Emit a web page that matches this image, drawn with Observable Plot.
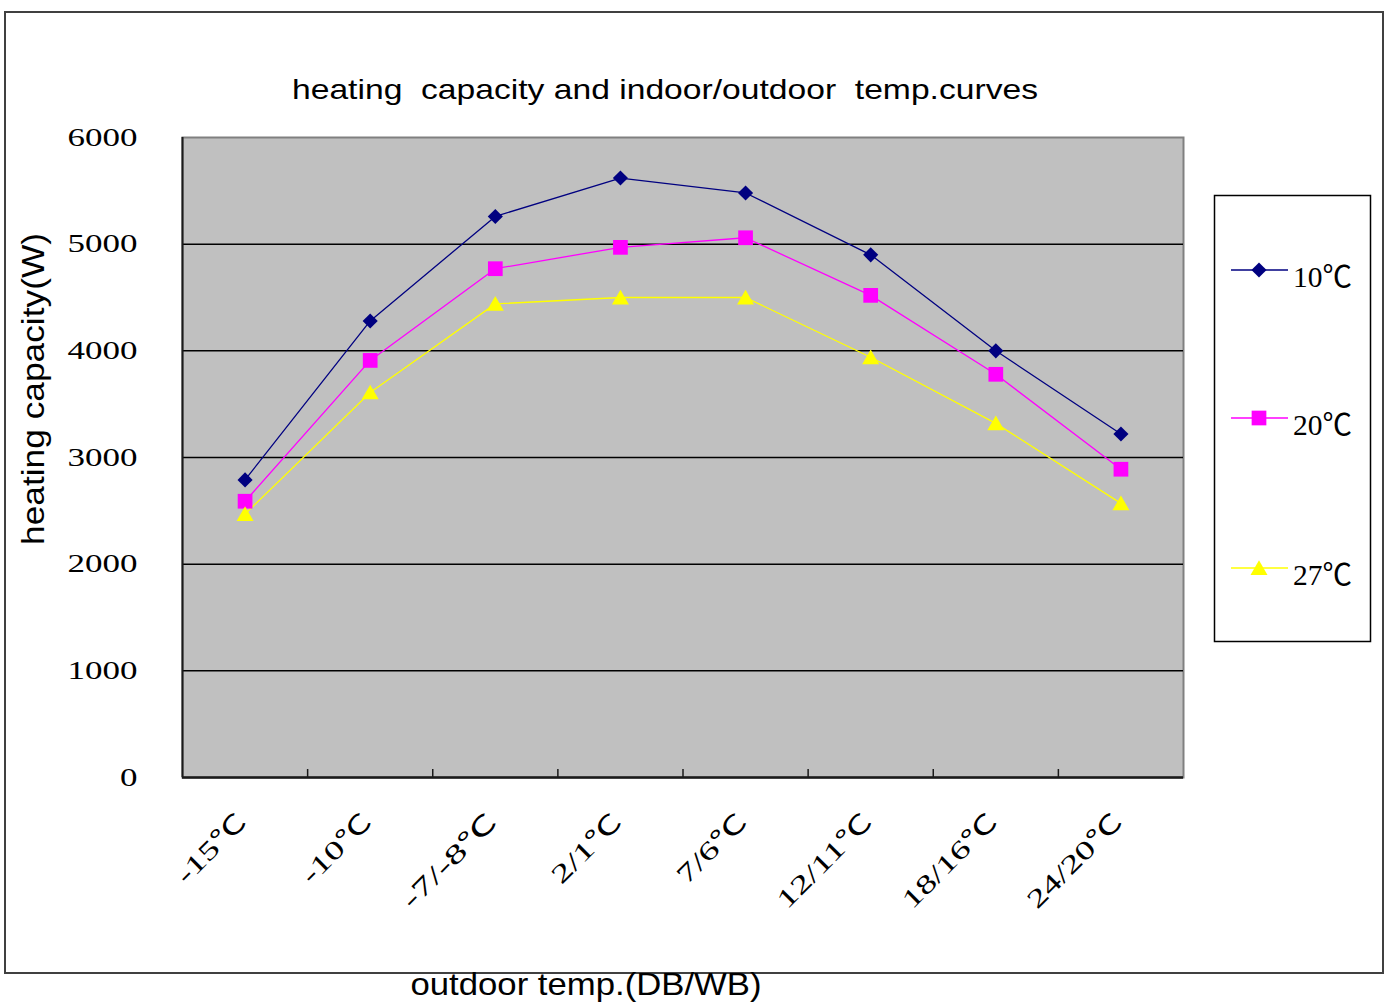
<!DOCTYPE html>
<html>
<head>
<meta charset="utf-8">
<script src="https://cdn.jsdelivr.net/npm/d3@7"></script>
<script src="https://cdn.jsdelivr.net/npm/@observablehq/plot@0.6"></script>
<style>
  html, body { margin: 0; padding: 0; background: #ffffff; }
  #c { position: relative; width: 1389px; height: 1003px; }
  #c svg { display: block; }
</style>
</head>
<body>
<div id="c"></div>
<script>
// ---- data ----
const categories = ["-15℃", "-10℃", "-7/-8℃", "2/1℃", "7/6℃", "12/11℃", "18/16℃", "24/20℃"];
const seriesNames = ["10℃", "20℃", "27℃"];
const values10 = [2790, 4280, 5260, 5620, 5480, 4900, 4000, 3220];
const values20 = [2590, 3910, 4770, 4970, 5060, 4520, 3780, 2890];
const values27 = [2470, 3610, 4440, 4500, 4500, 3940, 3320, 2570];
const yTicks = [0, 1000, 2000, 3000, 4000, 5000, 6000];
const titleText = "heating  capacity and indoor/outdoor  temp.curves";
const xTitle = "outdoor temp.(DB/WB)";
const yTitle = "heating capacity(W)";

const colors = ["#000080", "#ff00ff", "#ffff00"];
const symbols = ["diamond2", "square", "triangle"];
const radii = [6.8, 8.3, 6.3];
const symDy = [0, 0, 2];

const allValues = [values10, values20, values27];
const rows = [];
allValues.forEach((vals, s) => vals.forEach((v, i) => rows.push({series: seriesNames[s], s, i, cat: categories[i], value: v})));

const serif = "'Liberation Serif', 'Times New Roman', 'Noto Sans CJK SC', serif";
const sans = "'Liberation Sans', Arial, sans-serif";

const lineMarks = seriesNames.map((name, s) =>
  Plot.line(rows.filter(d => d.s === s), {x: d => d.i + 0.5, y: "value", stroke: colors[s], strokeWidth: 1.3})
);
const dotMarks = seriesNames.map((name, s) =>
  Plot.dot(rows.filter(d => d.s === s), {x: d => d.i + 0.5, y: "value", symbol: symbols[s], r: radii[s], fill: colors[s], stroke: "none", dy: symDy[s]})
);

const chart = Plot.plot({
  width: 1389,
  height: 1003,
  marginLeft: 182,
  marginRight: 206,
  marginTop: 137,
  marginBottom: 226,
  style: {background: "#ffffff", overflow: "visible"},
  x: {domain: [0, categories.length], axis: null},
  y: {domain: [0, 6000], axis: null},
  marks: [
    Plot.frame({fill: "#c0c0c0", stroke: "#808080", strokeWidth: 2}),
    Plot.gridY(yTicks.filter(v => v > 0 && v < 6000), {stroke: "#000000", strokeOpacity: 1, strokeWidth: 1.5}),
    Plot.ruleY([0], {stroke: "#1a1a1a", strokeWidth: 2.5}),
    Plot.ruleX([0], {stroke: "#1a1a1a", strokeWidth: 2}),
    Plot.axisX(d3.range(1, categories.length), {tickSize: 8, dy: -8, fill: "none", stroke: "#1a1a1a", strokeWidth: 1.5, label: null}),
    ...lineMarks,
    ...dotMarks,
    Plot.text(yTicks, {frameAnchor: "left", y: d => d, text: d => String(d), textAnchor: "end", dx: -45, fontSize: 26, fontFamily: serif, fill: "#000"}),
    Plot.text(categories, {x: (d, i) => i + 0.5, frameAnchor: "bottom", text: d => d, rotate: -45, textAnchor: "end", dx: 3, dy: 46, fontSize: 26, fontFamily: serif, fill: "#000"})
  ]
});

document.getElementById("c").append(chart);

// stretch tick labels like the wide original font
function lenOf(str, half, full) {
  let n = 0;
  for (const ch of str) n += (ch === "℃") ? full : half;
  return n;
}
const textGroups = chart.querySelectorAll("g[aria-label='text']");
[0, 1].forEach(k => {
  if (!textGroups[k]) return;
  d3.select(textGroups[k]).selectAll("text").each(function() {
    this.setAttribute("textLength", lenOf(this.textContent, 17.5, 35));
    this.setAttribute("lengthAdjust", "spacingAndGlyphs");
  });
});

// ---- annotations: outer frame, titles, legend ----
const svg = d3.select(chart);
const ann = svg.append("g").attr("class", "annotations");

ann.append("rect")
  .attr("x", 5).attr("y", 12).attr("width", 1378).attr("height", 961)
  .attr("fill", "none").attr("stroke", "#404040").attr("stroke-width", 2);

ann.append("text")
  .attr("x", 665).attr("y", 99)
  .attr("text-anchor", "middle")
  .attr("font-family", sans).attr("font-size", 28)
  .attr("textLength", 746).attr("lengthAdjust", "spacingAndGlyphs")
  .attr("fill", "#000")
  .text(titleText);

ann.append("text")
  .attr("transform", "translate(44,389) rotate(-90)")
  .attr("text-anchor", "middle")
  .attr("font-family", sans).attr("font-size", 31)
  .attr("textLength", 312).attr("lengthAdjust", "spacingAndGlyphs")
  .attr("fill", "#000")
  .text(yTitle);

ann.append("text")
  .attr("x", 586).attr("y", 995)
  .attr("text-anchor", "middle")
  .attr("font-family", sans).attr("font-size", 32)
  .attr("textLength", 351).attr("lengthAdjust", "spacingAndGlyphs")
  .attr("fill", "#000")
  .text(xTitle);

// legend
const lg = ann.append("g");
lg.append("rect")
  .attr("x", 1214.5).attr("y", 195.5).attr("width", 156).attr("height", 446)
  .attr("fill", "#ffffff").attr("stroke", "#000").attr("stroke-width", 1.5);
const legendY = [270, 418, 568];
const d3Symbols = [d3.symbolDiamond2, d3.symbolSquare, d3.symbolTriangle];
seriesNames.forEach((name, s) => {
  const y = legendY[s];
  lg.append("line").attr("x1", 1231).attr("x2", 1288).attr("y1", y).attr("y2", y)
    .attr("stroke", colors[s]).attr("stroke-width", 1.3);
  lg.append("path")
    .attr("transform", `translate(1259,${y + symDy[s]})`)
    .attr("d", d3.symbol(d3Symbols[s], Math.PI * radii[s] * radii[s])())
    .attr("fill", colors[s]);
  lg.append("text")
    .attr("x", 1293).attr("y", y + 17)
    .attr("text-anchor", "start")
    .attr("font-family", serif).attr("font-size", 30)
    .attr("textLength", 59).attr("lengthAdjust", "spacingAndGlyphs")
    .attr("fill", "#000")
    .text(name);
});
</script>
</body>
</html>
